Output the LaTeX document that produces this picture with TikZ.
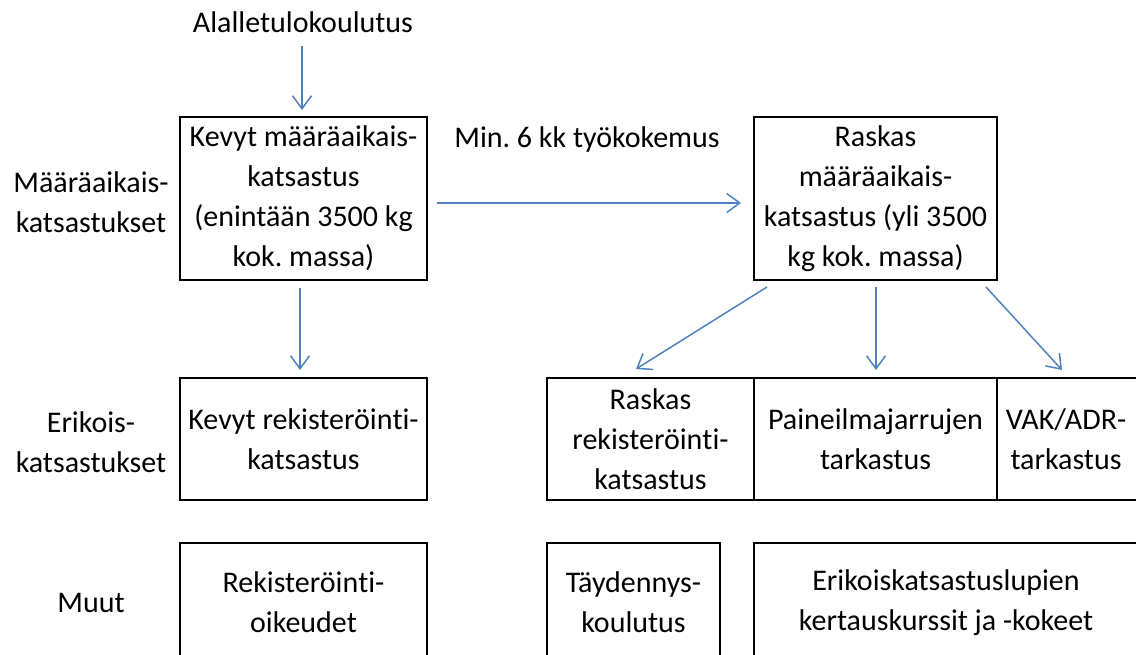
\documentclass[tikz,border=0pt]{standalone}
\usepackage{fontspec}
\setmainfont[RawFeature={-liga;-clig;-calt;-dlig;-rlig}]{Carlito}
\usetikzlibrary{arrows.meta}
\definecolor{arrc}{RGB}{79,129,189}
\frenchspacing
\begin{document}
\begin{tikzpicture}[x=1pt,y=-1pt,
  every node/.style={font=\fontsize{30}{40}\selectfont, align=center, inner sep=0pt},
  box/.style={draw, line width=1.6pt},
  conn/.style={draw=arrc, line width=1.5pt, -{Straight Barb[length=13pt,width=19pt]}}]
\useasboundingbox (0,0) rectangle (1136,655);
% texts
\node (alal) at (303,22) {Alalletulokoulutus};
\node (min) at (587,140) {Min. 6 kk työkokemus};
\node (lab1) at (91,202) {Määräaikais-\\katsastukset};
\node (lab2) at (91,442) {Erikois-\\katsastukset};
\node (lab3) at (91,603) {Muut};
% row 1
\node[box, minimum width=247pt, minimum height=163pt] (kevyt) at (303.5,198.5)
  {Kevyt määräaikais-\\katsastus\\(enintään 3500 kg\\kok. massa)};
\node[box, minimum width=243pt, minimum height=163pt] (raskas) at (875.5,198.5)
  {Raskas\\määräaikais-\\katsastus (yli 3500\\kg kok. massa)};
% row 2
\node[box, minimum width=247pt, minimum height=122pt] (kevytrek) at (303.5,439)
  {Kevyt rekisteröin\kern0pt ti-\\katsastus};
\node[box, minimum width=207pt, minimum height=122pt] (raskasrek) at (650.5,439)
  {Raskas\\rekisteröin\kern0pt ti-\\katsastus};
\node[box, minimum width=243pt, minimum height=122pt] (paine) at (875.5,439)
  {Paineilmajarrujen\\tarkastus};
\node[box, minimum width=145pt, minimum height=122pt] (vakbox) at (1069.5,439) {};
\node (vak) at (1066,439) {VAK/ADR-\\tarkastus};
% row 3
\node[box, minimum width=247pt, minimum height=119pt] (rekoik) at (303.5,602.5)
  {Rekisteröin\kern0pt ti-\\oikeudet};
\node[box, minimum width=173pt, minimum height=119pt] (tayd) at (633.5,602.5)
  {Täydennys-\\koulutus};
\node[box, minimum width=390pt, minimum height=119pt] (erikbox) at (949,602.5) {};
\node (erik) at (946,602.5) {Erikoiskatsastuslupien\\kertauskurssit ja -kokeet};
% connector ends
\coordinate (a1s) at (302,46);   \coordinate (a1e) at (302,110);
\coordinate (a2s) at (437,203);  \coordinate (a2e) at (741,203);
\coordinate (a3s) at (300,288);  \coordinate (a3e) at (300,370);
\coordinate (a4s) at (767,287);  \coordinate (a4e) at (636,369);
\coordinate (a5s) at (876,287);  \coordinate (a5e) at (876,370);
\coordinate (a6s) at (986,287);  \coordinate (a6e) at (1062,370);
\draw[conn] (a1s) -- (a1e);
\draw[conn] (a2s) -- (a2e);
\draw[conn] (a3s) -- (a3e);
\draw[conn] (a4s) -- (a4e);
\draw[conn] (a5s) -- (a5e);
\draw[conn] (a6s) -- (a6e);
\end{tikzpicture}
\end{document}
